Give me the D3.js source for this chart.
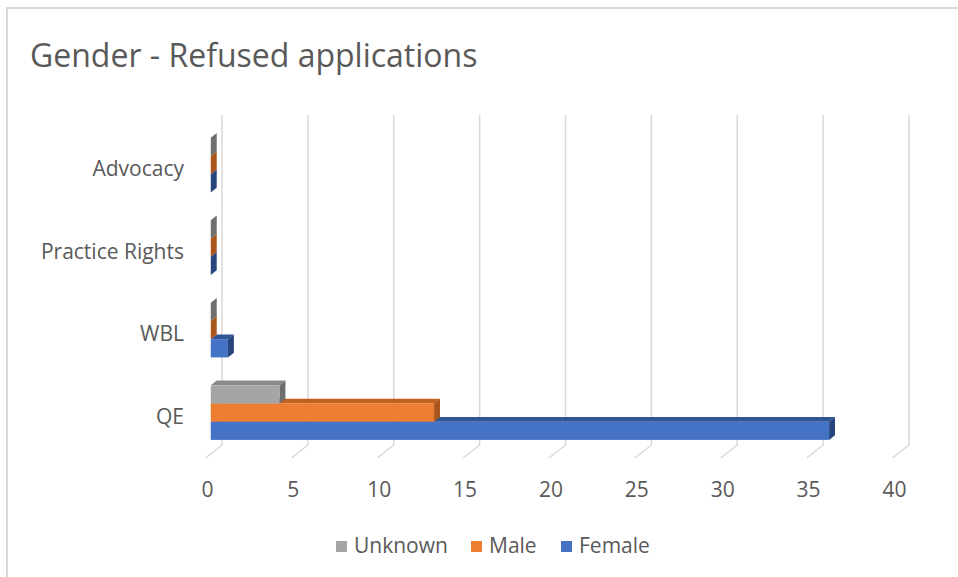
<!DOCTYPE html>
<html lang="en">
<head>
<meta charset="UTF-8">
<title>Gender - Refused applications</title>
<style>
  body { margin: 0; background: #fff; }
  text { font-family: "Open Sans", "Noto Sans", sans-serif; fill: #595959; }
</style>
</head>
<body>
<script src="https://cdn.jsdelivr.net/npm/d3@7"></script>
<script>
// data
const categories = ["QE", "WBL", "Practice Rights", "Advocacy"]
const seriesNames = ["Unknown", "Male", "Female"]
const unknownValues = [4, 0, 0, 0]
const maleValues = [13, 0, 0, 0]
const femaleValues = [36, 1, 0, 0]
const tickValues = [0, 5, 10, 15, 20, 25, 30, 35, 40]

const colors = {
  Unknown: { front: "#a5a5a5", top: "#8a8a8a", side: "#6f6f6f" },
  Male:    { front: "#ed7d31", top: "#c2621f", side: "#a9561d" },
  Female:  { front: "#4472c4", top: "#2f5597", side: "#27467d" }
}

const width = 958, height = 577

const svg = d3.select("body").append("svg")
  .attr("width", width)
  .attr("height", height)

// chart border
svg.append("rect")
  .attr("x", 7).attr("y", 8)
  .attr("width", width + 10).attr("height", height + 10)
  .attr("fill", "#fff")
  .attr("stroke", "#d9d9d9")
  .attr("stroke-width", 2)

svg.append("text")
  .attr("x", 30).attr("y", 67)
  .style("font-size", "32px")
  .text("Gender - Refused applications")

// back wall scales, depth goes toward the viewer
const x = d3.scaleLinear().domain([0, 40]).range([222, 909])
const y = d3.scaleBand().domain(categories).range([445, 115])
  .paddingInner(0.338).paddingOuter(0.169)
const ySub = d3.scaleBand().domain(seriesNames).range([0, y.bandwidth()])
const depth = { dx: -16.5, dy: 13 }
const zFront = 0.68, zBack = 0.32

function proj(v, yy, z) {
  return [x(v) + z * depth.dx, yy + z * depth.dy]
}

// gridlines on the back wall plus floor run-out
const grid = svg.append("g")
tickValues.forEach(t => {
  const top = proj(t, 115, 0), bot = proj(t, 445, 0), front = proj(t, 445, 1)
  grid.append("path")
    .attr("d", d3.line()([top, bot, front]))
    .attr("fill", "none")
    .attr("stroke", "#d9d9d9")
    .attr("stroke-width", 1.5)
})

// tick labels
svg.append("g").selectAll("text")
  .data(tickValues)
  .join("text")
  .attr("x", d => proj(d, 0, 1)[0] + 2)
  .attr("y", 497)
  .attr("text-anchor", "middle")
  .style("font-size", "21px")
  .text(d => d)

// category labels
svg.append("g").selectAll("text")
  .data(categories)
  .join("text")
  .attr("x", 184)
  .attr("y", d => y(d) + y.bandwidth() / 2 + 20)
  .attr("text-anchor", "end")
  .style("font-size", "21px")
  .text(d => d)

// bars, lower series first so the ones above cover hidden tops
const valuesBySeries = { Unknown: unknownValues, Male: maleValues, Female: femaleValues }
const bars = []
categories.forEach((c, i) => {
  ["Female", "Male", "Unknown"].forEach(s => {
    bars.push({ cat: c, series: s, value: valuesBySeries[s][i] })
  })
})

const barG = svg.append("g")
bars.forEach(b => {
  const y0 = y(b.cat) + ySub(b.series)
  const y1 = y0 + ySub.bandwidth()
  const col = colors[b.series]
  const g = barG.append("g")
  const poly = pts => "M" + pts.map(p => p.join(",")).join("L") + "Z"
  // top face
  g.append("path")
    .attr("d", poly([proj(0, y0, zFront), proj(b.value, y0, zFront), proj(b.value, y0, zBack), proj(0, y0, zBack)]))
    .attr("fill", col.top)
  // right face
  g.append("path")
    .attr("d", poly([proj(b.value, y0, zFront), proj(b.value, y0, zBack), proj(b.value, y1, zBack), proj(b.value, y1, zFront)]))
    .attr("fill", col.side)
  // front face
  if (b.value > 0) {
    const f0 = proj(0, y0, zFront), f1 = proj(b.value, y1, zFront)
    g.append("rect")
      .attr("x", f0[0]).attr("y", f0[1])
      .attr("width", f1[0] - f0[0]).attr("height", f1[1] - f0[1])
      .attr("fill", col.front)
  }
})

// legend
const legendItems = [
  { name: "Unknown", x: 336 },
  { name: "Male", x: 471 },
  { name: "Female", x: 561 }
]
const legend = svg.append("g").selectAll("g")
  .data(legendItems)
  .join("g")
  .attr("transform", d => `translate(${d.x},541)`)
legend.append("rect")
  .attr("width", 11).attr("height", 11)
  .attr("fill", d => colors[d.name].front)
legend.append("text")
  .attr("x", 18).attr("y", 12)
  .style("font-size", "21px")
  .text(d => d.name)
</script>
</body>
</html>
